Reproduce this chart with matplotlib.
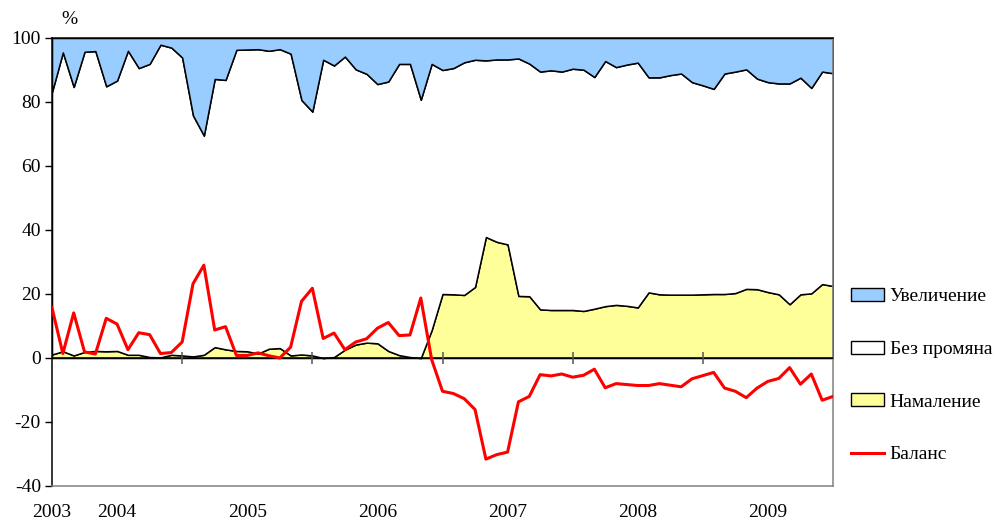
import numpy as np
import matplotlib
matplotlib.use("Agg")
import matplotlib.pyplot as plt
from matplotlib.patches import Patch
from matplotlib.lines import Line2D

plt.rcParams['font.family'] = ['Liberation Serif', 'DejaVu Serif']
plt.rcParams['axes.unicode_minus'] = False

# monthly observations, first point at the start of the axis (2003)
uvelichenie = [16.9, 4.5, 15.3, 4.3, 4.1, 15.1, 13.3, 4.0, 9.4, 8.1, 2.1, 3.0,
               6.1, 24.2, 30.5, 12.8, 13.1, 3.7, 3.6, 3.5, 4.0, 3.5, 4.9, 19.4,
               23.0, 6.8, 8.6, 5.8, 9.8, 11.2, 14.4, 13.6, 8.1, 8.1, 19.3, 8.1,
               10.0, 9.4, 7.6, 6.8, 7.0, 6.7, 6.7, 6.4, 8.0, 10.5, 10.1, 10.5,
               9.6, 9.9, 12.2, 7.2, 9.1, 8.3, 7.7, 12.3, 12.3, 11.6, 11.1, 13.8,
               14.8, 15.9, 11.1, 10.5, 9.8, 12.7, 13.8, 14.2, 14.2, 12.4, 15.6, 10.5,
               11.0]
namalenie = [1.1, 2.1, 0.8, 1.9, 2.2, 2.1, 2.2, 1.0, 1.0, 0.3, 0.2, 1.0,
             0.8, 0.5, 1.0, 3.4, 2.7, 2.2, 2.1, 1.4, 2.9, 3.1, 0.8, 1.1,
             0.8, 0.0, 0.3, 2.6, 4.2, 4.8, 4.6, 2.2, 0.9, 0.3, 0.0, 8.7,
             20.0, 19.9, 19.7, 22.2, 37.8, 36.3, 35.5, 19.4, 19.3, 15.2, 15.0, 15.0,
             15.0, 14.7, 15.4, 16.2, 16.6, 16.3, 15.8, 20.5, 19.9, 19.8, 19.8, 19.8,
             19.9, 20.0, 20.0, 20.3, 21.6, 21.5, 20.6, 19.9, 16.8, 19.9, 20.2, 23.1,
             22.5]
balans = [15.7, 1.4, 14.1, 1.9, 1.25, 12.4, 10.6, 2.6, 7.9, 7.3, 1.4, 1.7,
          5.0, 23.2, 29.0, 8.75, 9.8, 0.8, 0.8, 1.6, 0.7, 0.0, 3.4, 17.7,
          21.8, 6.1, 7.8, 2.6, 5.0, 6.0, 9.3, 11.1, 7.0, 7.2, 18.75, -0.5,
          -10.4, -11.1, -12.7, -16.1, -31.6, -30.2, -29.4, -13.7, -12.0, -5.2, -5.6, -5.0,
          -6.0, -5.4, -3.5, -9.3, -8.0, -8.3, -8.6, -8.6, -8.0, -8.5, -9.0, -6.5,
          -5.5, -4.5, -9.4, -10.4, -12.4, -9.4, -7.3, -6.4, -3.0, -8.2, -5.0, -13.2,
          -12.0]
years = ['2003', '2004', '2005', '2006', '2007', '2008', '2009']
labels = ['Увеличение', 'Без промяна', 'Намаление', 'Баланс']

uv = np.array(uvelichenie)
nm = np.array(namalenie)
bez = 100 - uv - nm
x = np.arange(len(uv))

fig = plt.figure(figsize=(9.93, 5.21), dpi=100)
ax = fig.add_axes([52 / 993, 35 / 521, 781 / 993, 448 / 521])

blue, yellow, red = '#99CCFF', '#FFFF99', '#FF0000'
ax.stackplot(x, nm, bez, uv, colors=[yellow, 'white', blue],
             edgecolor='black', linewidth=1.1, zorder=2)
ax.plot(x, balans, color=red, lw=2.2, zorder=4)

ax.set_xlim(0, len(x) - 1)
ax.set_ylim(-40, 100)

# horizontal axis at zero with year tick marks
ax.axhline(0, color='black', lw=1.1, zorder=3)
year_ticks = np.arange(12, len(x) - 1, 12)
ax.plot(year_ticks, np.zeros_like(year_ticks), ls='none', marker='|',
        markersize=9, color='#555555', mew=1.1, zorder=3)

# year labels: 2003 at the start, others centred on each year
pos = [0] + [6 + 12 * i for i in range(len(years) - 1)]
ax.set_xticks(pos)
ax.set_xticklabels(years, fontsize=14)
ax.tick_params(axis='x', length=0, pad=13)

ax.set_yticks(range(-40, 101, 20))
ax.tick_params(axis='y', labelsize=14, length=5, width=1, direction='out', pad=3)

for s in ['bottom', 'right']:
    ax.spines[s].set_color('#808080')
ax.spines['left'].set_color('black')
ax.spines['top'].set_color('black')
for s in ax.spines.values():
    s.set_linewidth(1.1)

fig.text(69 / 993, 1 - 20 / 521, '%', fontsize=14, ha='center', va='center')

handles = [Patch(facecolor=blue, edgecolor='black', lw=1),
           Patch(facecolor='white', edgecolor='black', lw=1),
           Patch(facecolor=yellow, edgecolor='black', lw=1),
           Line2D([], [], color=red, lw=2.2)]
fig.legend(handles, labels, loc='upper left', bbox_to_anchor=(851 / 993, 1 - 288 / 521),
           frameon=False, fontsize=14, labelspacing=1.82, handlelength=1.7,
           handleheight=0.65, handletextpad=0.3, borderpad=0, borderaxespad=0)

fig.savefig('out.png', dpi=100)
